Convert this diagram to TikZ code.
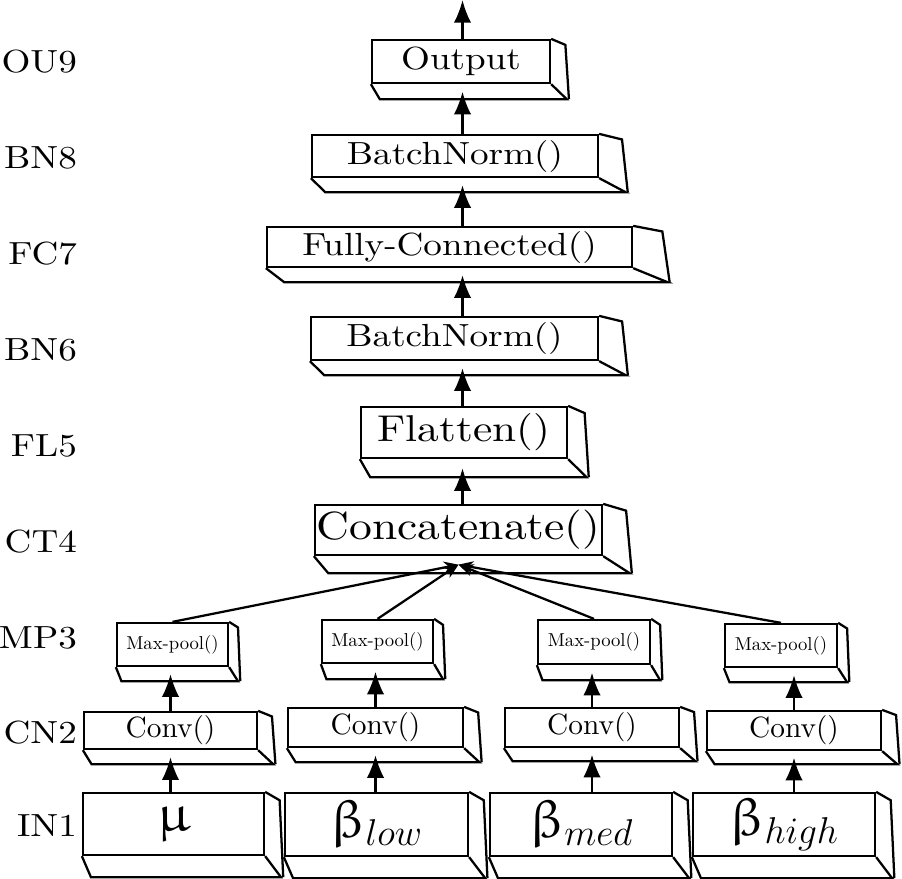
\documentclass[tikz,border=0pt]{standalone}
\usepackage{fix-cm}
\usepackage{fontspec}
\usepackage{upgreek}
\setmainfont{lmroman10-regular.otf}
\newfontfamily\widefont{lmroman10-regular.otf}[FakeStretch=1.16]
\usetikzlibrary{arrows.meta,calc}

\tikzset{every picture/.style={line width=1.7pt}}
\tikzset{
  layer/.style={draw, inner sep=0pt, line join=miter},
  face/.style={draw, line join=miter},
  flow/.style={-{Latex[length=17pt,width=13pt]}},
  merge/.style={-{Stealth[length=11pt,width=9pt]}},
  rowlabel/.style={anchor=east, inner sep=0pt, font=\widefont\fontsize{24}{28}\selectfont},
  headtext/.style={font=\widefont\fontsize{24}{28}\selectfont},
  convtext/.style={font=\fontsize{22}{26}\selectfont},
  pooltext/.style={font=\fontsize{14}{17}\selectfont},
  intext/.style={font=\fontsize{40}{48}\selectfont},
}

% box with bottom and right faces: name, style, cx, cy, width, height, depth, text
\newcommand{\slab}[8]{%
  \node[layer, #2, minimum width=#5*0.75pt, minimum height=#6*0.75pt] (#1) at (#3,#4) {#8};
  \draw[face] (#1.south west) -- ++(0.05*#5,#7) -- ++(1.05*#5,0) -- (#1.south east);
  \draw[face] (#1.north east) -- ++(0.08*#5,0.4*#7) -- ($(#1.south east)+(0.1*#5,#7)$);
  \coordinate (#1-b) at ($(#1.south)+(0,0.5*#7)$);
}

\begin{document}
\begin{tikzpicture}[x=0.75pt,y=0.75pt,yscale=-1,xscale=1]
\useasboundingbox (0,0) rectangle (902,878);

% Row labels
\node[rowlabel] (l9) at (78,62) {OU9};
\node[rowlabel] (l8) at (78,158) {BN8};
\node[rowlabel] (l7) at (78,254) {FC7};
\node[rowlabel] (l6) at (78,350) {BN6};
\node[rowlabel] (l5) at (78,446) {FL5};
\node[rowlabel] (l4) at (78,542) {CT4};
\node[rowlabel] (l3) at (78,638) {MP3};
\node[rowlabel] (l2) at (78,733) {CN2};
\node[rowlabel] (l1) at (78,826) {IN1};

% Head of the network
\slab{out}{headtext}{461}{61.5}{178}{43}{15}{Output}
\slab{bn8}{headtext}{455}{156}{286}{42}{14}{BatchNorm()}
\slab{fc7}{headtext}{449.5}{247}{365}{40}{14}{Fully-Connected()}
\slab{bn6}{headtext}{454.5}{338.5}{287}{43}{14}{BatchNorm()}
\slab{fl5}{font=\widefont\fontsize{28}{32}\selectfont}{464}{432.5}{206}{51}{18}{Flatten()}
\slab{ct4}{font=\widefont\fontsize{29.5}{34}\selectfont}{458.5}{530}{287}{50}{17}{Concatenate()}

% Max-pool layers
\slab{mp1}{pooltext}{172.5}{644.5}{111}{43}{14}{Max-pool()}
\slab{mp2}{pooltext}{377.5}{641.5}{111}{43}{15}{Max-pool()}
\slab{mp3}{pooltext}{594}{642}{112}{44}{15}{Max-pool()}
\slab{mp4}{pooltext}{781}{645.5}{112}{43}{14}{Max-pool()}

% Conv layers
\slab{cv1}{convtext}{170.5}{730.5}{173}{37}{14}{Conv()}
\slab{cv2}{convtext}{375.5}{727.5}{175}{39}{14}{Conv()}
\slab{cv3}{convtext}{592}{727.5}{174}{39}{13}{Conv()}
\slab{cv4}{convtext}{794}{730.5}{174}{39}{13}{Conv()}

% Inputs
\slab{in1}{intext}{173.5}{824}{181}{62}{21}{$\upmu$}
\slab{in2}{intext}{376.5}{824.5}{183}{63}{21}{$\upbeta_{low}$}
\slab{in3}{intext}{581}{824.5}{182}{63}{21}{$\upbeta_{med}$}
\slab{in4}{intext}{784}{824.5}{182}{63}{21}{$\upbeta_{high}$}

% Connectors
\coordinate (top) at (462.5,0);
\draw[flow] (out.north -| top) -- (top);
\draw[flow] (bn8.north -| top) -- (out-b -| top);
\draw[flow] (fc7.north -| top) -- (bn8-b -| top);
\draw[flow] (bn6.north -| top) -- (fc7-b -| top);
\draw[flow] (fl5.north -| top) -- (bn6-b -| top);
\draw[flow] (ct4.north -| top) -- (fl5-b -| top);

\foreach \k in {1,2,3,4}{
  \draw[merge] (mp\k.north) -- (ct4-b);
  \draw[flow] (cv\k.north) -- (mp\k-b -| cv\k);
  \draw[flow] (in\k.north -| cv\k) -- (cv\k-b);
}

\end{tikzpicture}
\end{document}
